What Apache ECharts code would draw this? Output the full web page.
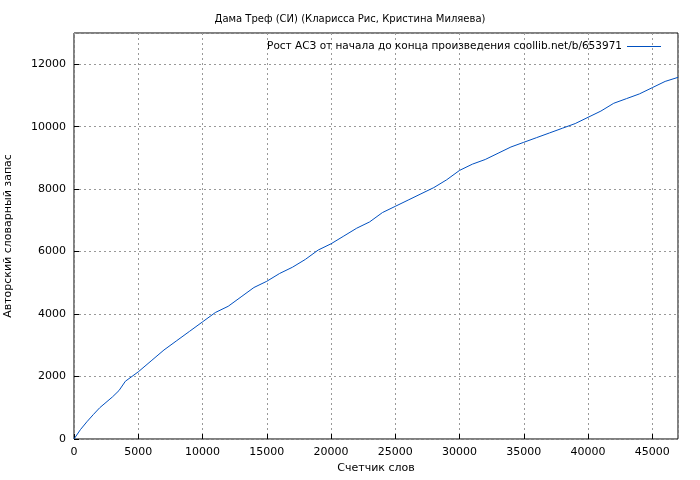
<!DOCTYPE html>
<html><head><meta charset="utf-8">
<script src="https://cdn.jsdelivr.net/npm/echarts@6/dist/echarts.min.js"></script>
<style>html,body{margin:0;padding:0;background:#fff}#c{width:700px;height:480px}</style>
</head><body><div id="c"></div>
<script>
// word counter vs. author's vocabulary
const words = [0,500,1000,1500,2000,3000,3500,4000,5000,6000,7000,8000,9000,10000,11000,12000,13000,14000,15000,16000,17000,18000,19000,20000,21000,22000,23000,24000,25000,26000,27000,28000,29000,30000,31000,32000,33000,34000,35000,36000,37000,38000,39000,40000,41000,42000,43000,44000,45000,46000,47000]
const vocab = [0,300,550,780,1000,1350,1550,1850,2150,2500,2850,3150,3450,3750,4050,4250,4550,4850,5050,5300,5500,5750,6050,6250,6500,6750,6950,7250,7450,7650,7850,8050,8300,8600,8800,8950,9150,9350,9500,9650,9800,9950,10100,10300,10500,10750,10900,11050,11250,11450,11580]
const seriesName = 'Рост АСЗ от начала до конца произведения coollib.net/b/653971'

const chart = echarts.init(document.getElementById('c'))
const font = 'DejaVu Sans'
const grid = {show: true, lineStyle: {color: '#999', type: [2, 3], width: 1}}
const plain = v => String(v)
chart.setOption({
  animation: false,
  textStyle: {fontFamily: font},
  title: {text: 'Дама Треф (СИ) (Кларисса Рис, Кристина Миляева)', left: 'center', top: 9,
    textStyle: {fontSize: 10, fontWeight: 'normal', color: '#000', fontFamily: font}},
  legend: {right: 34, top: 36, align: 'right', itemWidth: 34, itemHeight: 1, itemGap: 6,
    textStyle: {fontSize: 10.5, color: '#000', fontFamily: font},
    data: [{name: seriesName, icon: 'rect'}]},
  grid: {left: 74, right: 22, top: 33, bottom: 41, show: true, borderColor: '#000', borderWidth: 1,
    outerBoundsMode: 'none'},
  xAxis: {type: 'value', min: 0, max: 47000, interval: 5000, name: 'Счетчик слов',
    nameLocation: 'middle', nameGap: 24, nameTextStyle: {fontSize: 11, color: '#000'},
    axisLine: {show: false}, axisTick: {inside: true, lineStyle: {color: '#000'}},
    axisLabel: {fontSize: 11, color: '#000', showMaxLabel: false, formatter: plain}, splitLine: grid},
  yAxis: {type: 'value', min: 0, max: 13000, interval: 2000, name: 'Авторский словарный запас',
    nameLocation: 'middle', nameGap: 60, nameTextStyle: {fontSize: 11, color: '#000'},
    axisLine: {show: false}, axisTick: {inside: true, lineStyle: {color: '#000'}},
    axisLabel: {fontSize: 11, color: '#000', showMaxLabel: false, formatter: plain}, splitLine: grid},
  series: [{name: seriesName, type: 'line', showSymbol: false,
    data: words.map((w, i) => [w, vocab[i]]),
    lineStyle: {color: '#0050c0', width: 1}, itemStyle: {color: '#0050c0'}}]
})
</script></body></html>
